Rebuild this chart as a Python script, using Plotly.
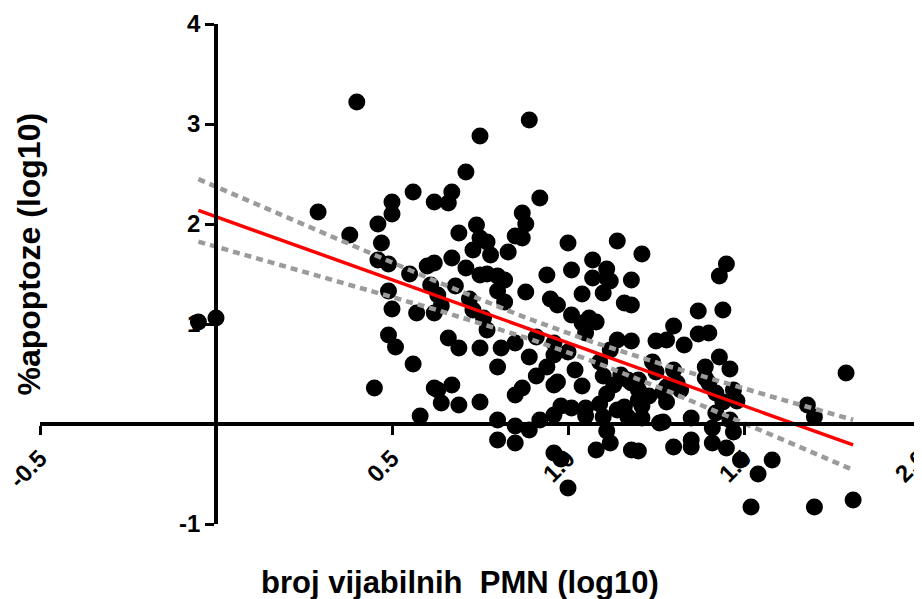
import numpy as np
import plotly.graph_objects as go

# ---- data ----
pmn_log10 = [
    -0.05, 0.00, 0.29, 0.38, 0.40, 0.45, 0.46, 0.47, 0.46, 0.49, 0.50, 0.50, 0.49, 0.50, 0.49, 0.51,
    0.56, 0.55, 0.56, 0.57, 0.58, 0.60, 0.62, 0.61, 0.63, 0.62, 0.64, 0.62, 0.62, 0.63, 0.64, 0.66,
    0.66, 0.67, 0.67, 0.68, 0.67, 0.69, 0.69, 0.69, 0.71, 0.71, 0.72, 0.73, 0.73, 0.74, 0.75, 0.75,
    0.75, 0.77, 0.77, 0.78, 0.76, 0.77, 0.75, 0.75, 0.80, 0.80, 0.80, 0.82, 0.82, 0.80, 0.80, 0.81,
    0.83, 0.85, 0.87, 0.87, 0.88, 0.89, 0.88, 0.85, 0.89, 0.91, 0.91, 0.92, 0.85, 0.87, 0.85, 0.85,
    0.89, 0.92, 0.94, 0.95, 0.97, 0.96, 0.96, 0.94, 0.96, 0.97, 0.96, 0.96, 0.98, 0.98, 1.00, 1.00,
    1.01, 1.01, 1.00, 1.01, 1.02, 1.04, 1.04, 1.04, 1.05, 1.05, 1.05, 1.06, 1.07, 1.07, 1.08, 1.08,
    1.09, 1.10, 1.09, 1.10, 1.10, 1.11, 1.11, 1.11, 1.11, 1.12, 1.12, 1.13, 1.14, 1.14, 1.12, 1.14,
    1.15, 1.16, 1.16, 1.17, 1.18, 1.20, 1.17, 1.18, 1.18, 1.18, 1.18, 1.20, 1.20, 1.20, 1.21, 1.21,
    1.21, 1.23, 1.25, 1.24, 1.25, 1.26, 1.27, 1.27, 1.28, 1.28, 1.28, 1.30, 1.30, 1.30, 1.31, 1.32,
    1.33, 1.35, 1.35, 1.35, 1.37, 1.37, 1.40, 1.39, 1.39, 1.40, 1.41, 1.42, 1.41, 1.42, 1.43, 1.43,
    1.45, 1.44, 1.44, 1.45, 1.46, 1.46, 1.47, 1.47, 1.48, 1.49, 1.52, 1.54, 1.58, 1.68, 1.70, 1.70,
    1.79, 1.81,
]
apoptoza_log10 = [
    1.02, 1.06, 2.12, 1.89, 3.22, 0.36, 2.00, 1.81, 1.64, 1.60, 2.22, 2.10, 1.33, 1.15, 0.89, 0.77,
    2.32, 1.50, 0.60, 1.11, 0.08, 1.58, 1.61, 1.39, 1.29, 1.11, 1.18, 2.22, 0.36, 0.34, 0.21, 0.86,
    2.21, 2.32, 1.66, 1.38, 0.39, 0.76, 0.19, 1.91, 2.52, 1.56, 1.25, 1.14, 1.74, 1.99, 1.86, 2.88,
    1.49, 1.82, 1.50, 1.69, 1.06, 0.94, 0.76, 0.22, 0.57, 1.48, 1.33, 1.44, 1.22, 0.04, -0.16, 0.76,
    1.72, 1.88, 1.86, 2.11, 2.00, 3.04, 1.32, 0.81, 0.67, 0.87, 0.48, 2.26, 0.29, 0.36, -0.02, -0.19,
    -0.06, 0.04, 1.49, 1.25, 1.19, 0.81, 0.69, 0.57, 0.39, 0.42, 0.09, -0.29, -0.35, 0.18, 0.72, 1.81,
    1.54, 1.09, -0.64, 0.16, 0.54, 0.38, 1.30, 1.01, 0.16, 0.08, 0.91, 1.06, 1.64, 1.46, 1.02, -0.26,
    0.62, 0.48, 0.20, 0.07, 1.31, 0.30, -0.07, 1.55, 1.46, 1.43, -0.19, 0.39, 1.83, 0.84, 0.74, 0.14,
    0.49, 0.17, 1.21, 0.44, -0.26, -0.27, 0.07, 1.44, 0.83, 1.19, 0.41, 0.44, 0.34, 0.24, 1.70, 0.06,
    0.18, 0.28, 0.83, 0.62, 0.52, 0.01, 0.32, 0.02, 0.22, 0.37, 0.84, 0.98, 0.54, -0.23, 0.41, 0.34,
    0.79, -0.16, -0.23, 0.06, 1.13, 0.90, 0.91, 0.57, 0.46, 0.41, -0.19, 0.31, -0.04, 0.11, 1.48, 0.67,
    -0.24, 1.14, 0.22, 1.60, 0.55, 0.04, -0.08, 0.34, 0.23, -0.36, -0.83, -0.50, -0.36, 0.19, 0.07, -0.83,
    0.51, -0.76,
]
x_ticks = [-0.5, 0.5, 1.0, 1.5, 2.0]
x_tick_labels = ["-0.5", "0.5", "1.0", "1.5", "2.0"]
y_ticks = [-1, 1, 2, 3, 4]
y_tick_labels = ["-1", "1", "2", "3", "4"]
x_title = "broj vijabilnih\u00a0 PMN (log10)"
y_title = "%apoptoze (log10)"

# ---- linear regression with 95% confidence band ----
x = np.array(pmn_log10)
y = np.array(apoptoza_log10)
n = len(x)
slope, intercept = np.polyfit(x, y, 1)
resid = y - (slope * x + intercept)
s = np.sqrt(np.sum(resid ** 2) / (n - 2))
xbar = x.mean()
sxx = np.sum((x - xbar) ** 2)
t_crit = 1.972  # t(0.975, df ~ 190)
xf = np.linspace(x.min(), x.max(), 100)
yf = slope * xf + intercept
half = t_crit * s * np.sqrt(1.0 / n + (xf - xbar) ** 2 / sxx)

font_family = "Liberation Sans, Arial, sans-serif"

fig = go.Figure()
fig.add_trace(go.Scatter(
    x=pmn_log10, y=apoptoza_log10, mode="markers",
    marker=dict(size=17, color="black", line=dict(width=0)),
    showlegend=False, hoverinfo="x+y",
))
fig.add_trace(go.Scatter(x=xf, y=yf + half, mode="lines",
                         line=dict(color="#9b9b9b", width=4.5, dash="7px,5px"),
                         showlegend=False))
fig.add_trace(go.Scatter(x=xf, y=yf - half, mode="lines",
                         line=dict(color="#9b9b9b", width=4.5, dash="7px,5px"),
                         showlegend=False))
fig.add_trace(go.Scatter(x=xf, y=yf, mode="lines",
                         line=dict(color="#ff0000", width=3.5),
                         showlegend=False))

axis_common = dict(
    showgrid=False, zeroline=False, showline=True, linecolor="black", linewidth=3.5,
    ticks="outside", ticklen=9, tickwidth=3, tickcolor="black",
    tickfont=dict(family=font_family, size=24, color="black", weight="bold"),
    anchor="free", position=0.2, ticklabeloverflow="allow", automargin=False,
)
fig.update_layout(
    width=914, height=591,
    margin=dict(l=32, r=2, t=16, b=75, pad=0, autoexpand=False),
    paper_bgcolor="white", plot_bgcolor="white",
    xaxis=dict(range=[-0.5, 2.0], tickmode="array", tickvals=x_ticks,
               ticktext=x_tick_labels, tickangle=-45, **axis_common),
    yaxis=dict(range=[-1, 4], tickmode="array", tickvals=y_ticks,
               ticktext=y_tick_labels, **axis_common),
    annotations=[
        dict(text=x_title, xref="paper", yref="paper", x=0.477, y=-0.117,
             showarrow=False, xanchor="center", yanchor="middle",
             font=dict(family=font_family, size=31, color="black", weight="bold")),
        dict(text=y_title, xref="paper", yref="paper", x=-0.013, y=0.54,
             showarrow=False, xanchor="center", yanchor="middle", textangle=-90,
             font=dict(family=font_family, size=32, color="black", weight="bold")),
    ],
)
fig.write_html("out.html")
